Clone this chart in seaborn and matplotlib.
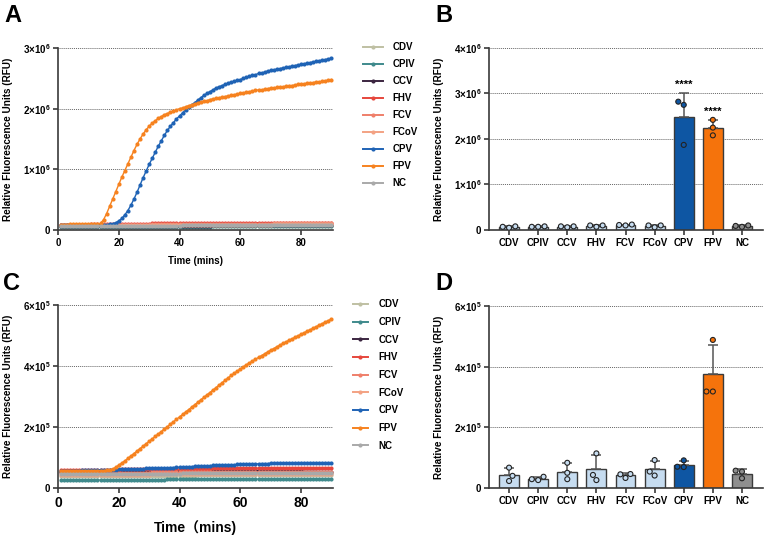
import matplotlib
matplotlib.use("Agg")
import matplotlib.pyplot as plt
from matplotlib.lines import Line2D
import numpy as np
import pandas as pd
import seaborn as sns

plt.rcParams["font.family"] = ["Liberation Sans", "DejaVu Sans"]
plt.rcParams["font.weight"] = "bold"
plt.rcParams["axes.labelweight"] = "bold"
plt.rcParams["mathtext.fontset"] = "custom"
plt.rcParams["mathtext.bf"] = "Liberation Sans:bold"
plt.rcParams["mathtext.rm"] = "Liberation Sans:bold"

viruses = ["CDV", "CPIV", "CCV", "FHV", "FCV", "FCoV", "CPV", "FPV", "NC"]
minutes = list(range(1, 91))
line_colors = ["#bfc0a3", "#3f8a8c", "#3b2540", "#e6463c", "#ef7f6a",
               "#f3a283", "#1f63b5", "#f6821f", "#a9a9a9"]
bar_colors = ["#c6dcf0", "#c6dcf0", "#c6dcf0", "#c6dcf0", "#c6dcf0",
              "#c6dcf0", "#0e56a3", "#f5730c", "#8f8f8f"]

# ---- panel A : real-time curves, RFU x 1e5 ----
a_cdv = [0.6, 0.6, 0.6, 0.6, 0.6, 0.6, 0.6, 0.6, 0.6, 0.6,
         0.6, 0.6, 0.6, 0.6, 0.6, 0.6, 0.6, 0.6, 0.6, 0.6,
         0.6, 0.6, 0.6, 0.6, 0.6, 0.6, 0.6, 0.6, 0.6, 0.6,
         0.6, 0.6, 0.6, 0.6, 0.6, 0.6, 0.6, 0.6, 0.6, 0.6,
         0.6, 0.6, 0.6, 0.6, 0.6, 0.7, 0.7, 0.7, 0.7, 0.7,
         0.7, 0.7, 0.7, 0.7, 0.7, 0.7, 0.7, 0.7, 0.7, 0.7,
         0.7, 0.7, 0.7, 0.7, 0.7, 0.7, 0.7, 0.7, 0.7, 0.7,
         0.7, 0.7, 0.7, 0.7, 0.7, 0.7, 0.7, 0.7, 0.7, 0.7,
         0.7, 0.7, 0.7, 0.7, 0.7, 0.7, 0.7, 0.7, 0.7, 0.7]
a_cpiv = [0.5, 0.5, 0.5, 0.5, 0.5, 0.5, 0.5, 0.5, 0.5, 0.5,
          0.5, 0.5, 0.5, 0.5, 0.5, 0.5, 0.5, 0.5, 0.5, 0.5,
          0.5, 0.5, 0.5, 0.5, 0.5, 0.5, 0.5, 0.5, 0.5, 0.5,
          0.5, 0.5, 0.5, 0.5, 0.5, 0.5, 0.5, 0.5, 0.5, 0.5,
          0.5, 0.5, 0.5, 0.5, 0.5, 0.5, 0.5, 0.5, 0.5, 0.5,
          0.6, 0.6, 0.6, 0.6, 0.6, 0.6, 0.6, 0.6, 0.6, 0.6,
          0.6, 0.6, 0.6, 0.6, 0.6, 0.6, 0.6, 0.6, 0.6, 0.6,
          0.6, 0.6, 0.6, 0.6, 0.6, 0.6, 0.6, 0.6, 0.6, 0.6,
          0.6, 0.6, 0.6, 0.6, 0.6, 0.6, 0.6, 0.6, 0.6, 0.6]
a_ccv = [0.7, 0.7, 0.7, 0.7, 0.7, 0.7, 0.7, 0.7, 0.7, 0.7,
         0.7, 0.7, 0.7, 0.7, 0.7, 0.7, 0.7, 0.7, 0.7, 0.7,
         0.7, 0.7, 0.7, 0.7, 0.7, 0.7, 0.7, 0.7, 0.7, 0.7,
         0.7, 0.7, 0.7, 0.7, 0.7, 0.7, 0.7, 0.7, 0.7, 0.7,
         0.7, 0.7, 0.7, 0.7, 0.7, 0.7, 0.7, 0.7, 0.7, 0.7,
         0.8, 0.8, 0.8, 0.8, 0.8, 0.8, 0.8, 0.8, 0.8, 0.8,
         0.8, 0.8, 0.8, 0.8, 0.8, 0.8, 0.8, 0.8, 0.8, 0.8,
         0.8, 0.8, 0.8, 0.8, 0.8, 0.8, 0.8, 0.8, 0.8, 0.8,
         0.8, 0.8, 0.8, 0.8, 0.8, 0.8, 0.8, 0.8, 0.8, 0.8]
a_fhv = [0.9, 0.9, 0.9, 0.9, 0.9, 0.9, 0.9, 0.9, 0.9, 0.9,
         1.0, 1.0, 1.0, 1.0, 1.0, 1.0, 1.0, 1.0, 1.0, 1.0,
         1.0, 1.0, 1.0, 1.0, 1.0, 1.0, 1.0, 1.0, 1.0, 1.0,
         1.1, 1.1, 1.1, 1.1, 1.1, 1.1, 1.1, 1.1, 1.1, 1.1,
         1.1, 1.1, 1.1, 1.1, 1.1, 1.1, 1.1, 1.1, 1.1, 1.1,
         1.1, 1.1, 1.1, 1.1, 1.1, 1.1, 1.1, 1.1, 1.1, 1.1,
         1.2, 1.2, 1.2, 1.2, 1.2, 1.2, 1.2, 1.2, 1.2, 1.2,
         1.2, 1.2, 1.2, 1.2, 1.2, 1.2, 1.2, 1.2, 1.2, 1.2,
         1.2, 1.2, 1.2, 1.2, 1.2, 1.2, 1.2, 1.2, 1.2, 1.2]
a_fcv = [0.9, 0.9, 0.9, 0.9, 0.9, 0.9, 0.9, 0.9, 0.9, 0.9,
         0.9, 0.9, 0.9, 0.9, 0.9, 0.9, 0.9, 0.9, 0.9, 0.9,
         0.9, 0.9, 0.9, 0.9, 0.9, 0.9, 0.9, 0.9, 0.9, 0.9,
         1.0, 1.0, 1.0, 1.0, 1.0, 1.0, 1.0, 1.0, 1.0, 1.0,
         1.0, 1.0, 1.0, 1.0, 1.0, 1.0, 1.0, 1.0, 1.0, 1.0,
         1.0, 1.0, 1.0, 1.0, 1.0, 1.0, 1.0, 1.0, 1.0, 1.0,
         1.0, 1.0, 1.0, 1.0, 1.0, 1.0, 1.0, 1.0, 1.0, 1.0,
         1.1, 1.1, 1.1, 1.1, 1.1, 1.1, 1.1, 1.1, 1.1, 1.1,
         1.1, 1.1, 1.1, 1.1, 1.1, 1.1, 1.1, 1.1, 1.1, 1.1]
a_fcov = [0.8, 0.8, 0.8, 0.8, 0.8, 0.8, 0.8, 0.8, 0.8, 0.8,
          0.8, 0.8, 0.8, 0.8, 0.8, 0.8, 0.8, 0.8, 0.8, 0.8,
          0.8, 0.8, 0.8, 0.8, 0.8, 0.8, 0.8, 0.8, 0.8, 0.8,
          0.9, 0.9, 0.9, 0.9, 0.9, 0.9, 0.9, 0.9, 0.9, 0.9,
          0.9, 0.9, 0.9, 0.9, 0.9, 0.9, 0.9, 0.9, 0.9, 0.9,
          0.9, 0.9, 0.9, 0.9, 0.9, 0.9, 0.9, 0.9, 0.9, 0.9,
          0.9, 0.9, 0.9, 0.9, 0.9, 0.9, 0.9, 0.9, 0.9, 0.9,
          1.0, 1.0, 1.0, 1.0, 1.0, 1.0, 1.0, 1.0, 1.0, 1.0,
          1.0, 1.0, 1.0, 1.0, 1.0, 1.0, 1.0, 1.0, 1.0, 1.0]
a_cpv = [0.80, 0.80, 0.80, 0.80, 0.81, 0.81, 0.81, 0.81, 0.81, 0.82,
         0.82, 0.82, 0.82, 0.83, 0.84, 0.87, 0.93, 1.03, 1.2, 1.5,
         1.9, 2.5, 3.2, 4.1, 5.1, 6.2, 7.4, 8.6, 9.7, 10.8,
         11.8, 12.8, 13.8, 14.7, 15.6, 16.4, 17.1, 17.7, 18.3, 18.8,
         19.3, 19.8, 20.2, 20.6, 21.0, 21.4, 21.8, 22.2, 22.5, 22.8,
         23.1, 23.4, 23.6, 23.8, 24.0, 24.2, 24.4, 24.5, 24.7, 24.8,
         25.0, 25.2, 25.3, 25.5, 25.6, 25.8, 25.9, 26.0, 26.2, 26.3,
         26.4, 26.5, 26.6, 26.7, 26.8, 26.9, 27.0, 27.1, 27.2, 27.3,
         27.4, 27.5, 27.6, 27.7, 27.8, 27.9, 28.0, 28.1, 28.2, 28.3]
a_fpv = [0.90, 0.90, 0.90, 0.91, 0.91, 0.91, 0.91, 0.92, 0.92, 0.92,
         0.92, 0.93, 0.95, 1.1, 1.7, 2.7, 3.9, 5.1, 6.3, 7.5,
         8.7, 9.8, 10.9, 12.0, 13.1, 14.1, 15.0, 15.8, 16.5, 17.1,
         17.6, 18.0, 18.4, 18.7, 19.0, 19.2, 19.4, 19.6, 19.8, 20.0,
         20.1, 20.3, 20.5, 20.6, 20.8, 20.9, 21.1, 21.2, 21.3, 21.5,
         21.6, 21.7, 21.8, 21.9, 22.0, 22.1, 22.2, 22.3, 22.4, 22.5,
         22.6, 22.7, 22.8, 22.9, 23.0, 23.1, 23.1, 23.2, 23.3, 23.4,
         23.4, 23.5, 23.6, 23.6, 23.7, 23.8, 23.8, 23.9, 24.0, 24.0,
         24.1, 24.2, 24.2, 24.3, 24.4, 24.4, 24.5, 24.6, 24.7, 24.8]
a_nc = [0.7, 0.7, 0.7, 0.7, 0.7, 0.7, 0.7, 0.7, 0.7, 0.7,
        0.7, 0.7, 0.7, 0.7, 0.7, 0.7, 0.7, 0.7, 0.7, 0.7,
        0.7, 0.7, 0.7, 0.7, 0.7, 0.7, 0.7, 0.7, 0.7, 0.7,
        0.7, 0.7, 0.7, 0.7, 0.7, 0.7, 0.7, 0.7, 0.7, 0.7,
        0.8, 0.8, 0.8, 0.8, 0.8, 0.8, 0.8, 0.8, 0.8, 0.8,
        0.8, 0.8, 0.8, 0.8, 0.8, 0.8, 0.8, 0.8, 0.8, 0.8,
        0.8, 0.8, 0.8, 0.8, 0.8, 0.8, 0.8, 0.8, 0.8, 0.8,
        0.9, 0.9, 0.9, 0.9, 0.9, 0.9, 0.9, 0.9, 0.9, 0.9,
        0.9, 0.9, 0.9, 0.9, 0.9, 0.9, 0.9, 0.9, 0.9, 0.9]

# ---- panel C : real-time curves, RFU x 1e4 ----
c_cdv = [3.8, 3.8, 3.8, 3.8, 3.8, 3.8, 3.8, 3.8, 3.8, 3.8,
         3.8, 3.8, 3.8, 3.8, 3.9, 3.9, 3.9, 3.9, 3.9, 3.9,
         3.9, 3.9, 3.9, 3.9, 3.9, 3.9, 3.9, 3.9, 3.9, 3.9,
         4.0, 4.0, 4.0, 4.0, 4.0, 4.0, 4.0, 4.0, 4.0, 4.0,
         4.0, 4.0, 4.0, 4.0, 4.0, 4.1, 4.1, 4.1, 4.1, 4.1,
         4.1, 4.1, 4.1, 4.1, 4.1, 4.1, 4.1, 4.1, 4.1, 4.1,
         4.2, 4.2, 4.2, 4.2, 4.2, 4.2, 4.2, 4.2, 4.2, 4.2,
         4.2, 4.2, 4.2, 4.2, 4.2, 4.3, 4.3, 4.3, 4.3, 4.3,
         4.3, 4.3, 4.3, 4.3, 4.3, 4.3, 4.3, 4.3, 4.3, 4.3]
c_cpiv = [2.6, 2.6, 2.6, 2.6, 2.6, 2.6, 2.6, 2.6, 2.6, 2.6,
          2.6, 2.6, 2.6, 2.6, 2.6, 2.7, 2.7, 2.7, 2.7, 2.7,
          2.7, 2.7, 2.7, 2.7, 2.7, 2.7, 2.7, 2.7, 2.7, 2.7,
          2.7, 2.7, 2.7, 2.7, 2.7, 2.8, 2.8, 2.8, 2.8, 2.8,
          2.8, 2.8, 2.8, 2.8, 2.8, 2.8, 2.8, 2.8, 2.8, 2.8,
          2.8, 2.8, 2.8, 2.8, 2.8, 2.9, 2.9, 2.9, 2.9, 2.9,
          2.9, 2.9, 2.9, 2.9, 2.9, 2.9, 2.9, 2.9, 2.9, 2.9,
          2.9, 2.9, 2.9, 2.9, 2.9, 3.0, 3.0, 3.0, 3.0, 3.0,
          3.0, 3.0, 3.0, 3.0, 3.0, 3.0, 3.0, 3.0, 3.0, 3.0]
c_ccv = [5.3, 5.3, 5.3, 5.3, 5.3, 5.3, 5.3, 5.3, 5.3, 5.3,
         5.3, 5.3, 5.3, 5.3, 5.3, 5.4, 5.4, 5.4, 5.4, 5.4,
         5.4, 5.4, 5.4, 5.4, 5.4, 5.4, 5.4, 5.4, 5.4, 5.4,
         5.5, 5.5, 5.5, 5.5, 5.5, 5.5, 5.5, 5.5, 5.5, 5.5,
         5.6, 5.6, 5.6, 5.6, 5.6, 5.6, 5.6, 5.6, 5.6, 5.6,
         5.7, 5.7, 5.7, 5.7, 5.7, 5.8, 5.8, 5.8, 5.8, 5.8,
         5.8, 5.8, 5.8, 5.8, 5.8, 5.7, 5.7, 5.7, 5.7, 5.7,
         5.6, 5.6, 5.6, 5.6, 5.6, 5.5, 5.5, 5.5, 5.5, 5.5,
         5.4, 5.4, 5.4, 5.4, 5.4, 5.3, 5.3, 5.3, 5.3, 5.3]
c_fhv = [5.9, 5.9, 5.9, 5.9, 5.9, 5.9, 5.9, 5.9, 5.9, 5.9,
         6.0, 6.0, 6.0, 6.0, 6.0, 6.0, 6.0, 6.0, 6.0, 6.0,
         6.1, 6.1, 6.1, 6.1, 6.1, 6.1, 6.1, 6.1, 6.1, 6.1,
         6.2, 6.2, 6.2, 6.2, 6.2, 6.2, 6.2, 6.2, 6.2, 6.2,
         6.3, 6.3, 6.3, 6.3, 6.3, 6.3, 6.3, 6.3, 6.3, 6.3,
         6.4, 6.4, 6.4, 6.4, 6.4, 6.4, 6.4, 6.4, 6.4, 6.4,
         6.5, 6.5, 6.5, 6.5, 6.5, 6.5, 6.5, 6.5, 6.5, 6.5,
         6.5, 6.5, 6.5, 6.5, 6.5, 6.6, 6.6, 6.6, 6.6, 6.6,
         6.6, 6.6, 6.6, 6.6, 6.6, 6.6, 6.6, 6.6, 6.6, 6.6]
c_fcv = [5.0, 5.0, 5.0, 5.0, 5.0, 5.0, 5.0, 5.0, 5.0, 5.0,
         5.0, 5.0, 5.0, 5.0, 5.0, 5.0, 5.0, 5.0, 5.0, 5.0,
         5.0, 5.0, 5.0, 5.0, 5.0, 5.0, 5.0, 5.0, 5.0, 5.0,
         5.1, 5.1, 5.1, 5.1, 5.1, 5.1, 5.1, 5.1, 5.1, 5.1,
         5.1, 5.1, 5.1, 5.1, 5.1, 5.1, 5.1, 5.1, 5.1, 5.1,
         5.1, 5.1, 5.1, 5.1, 5.1, 5.1, 5.1, 5.1, 5.1, 5.1,
         5.2, 5.2, 5.2, 5.2, 5.2, 5.2, 5.2, 5.2, 5.2, 5.2,
         5.2, 5.2, 5.2, 5.2, 5.2, 5.2, 5.2, 5.2, 5.2, 5.2,
         5.2, 5.2, 5.2, 5.2, 5.2, 5.2, 5.2, 5.2, 5.2, 5.2]
c_fcov = [4.4, 4.4, 4.4, 4.4, 4.4, 4.4, 4.4, 4.4, 4.4, 4.4,
          4.4, 4.4, 4.4, 4.4, 4.4, 4.4, 4.4, 4.4, 4.4, 4.4,
          4.4, 4.4, 4.4, 4.4, 4.4, 4.4, 4.4, 4.4, 4.4, 4.4,
          4.5, 4.5, 4.5, 4.5, 4.5, 4.5, 4.5, 4.5, 4.5, 4.5,
          4.5, 4.5, 4.5, 4.5, 4.5, 4.5, 4.5, 4.5, 4.5, 4.5,
          4.5, 4.5, 4.5, 4.5, 4.5, 4.5, 4.5, 4.5, 4.5, 4.5,
          4.6, 4.6, 4.6, 4.6, 4.6, 4.6, 4.6, 4.6, 4.6, 4.6,
          4.6, 4.6, 4.6, 4.6, 4.6, 4.6, 4.6, 4.6, 4.6, 4.6,
          4.6, 4.6, 4.6, 4.6, 4.6, 4.6, 4.6, 4.6, 4.6, 4.6]
c_cpv = [5.6, 5.6, 5.6, 5.7, 5.7, 5.7, 5.7, 5.8, 5.8, 5.8,
         5.8, 5.9, 5.9, 5.9, 5.9, 6.0, 6.0, 6.0, 6.0, 6.1,
         6.1, 6.1, 6.2, 6.2, 6.2, 6.3, 6.3, 6.3, 6.4, 6.4,
         6.4, 6.5, 6.5, 6.6, 6.6, 6.6, 6.7, 6.7, 6.8, 6.8,
         6.9, 6.9, 7.0, 7.0, 7.1, 7.1, 7.2, 7.2, 7.3, 7.3,
         7.4, 7.4, 7.4, 7.5, 7.5, 7.6, 7.6, 7.6, 7.7, 7.7,
         7.8, 7.8, 7.8, 7.9, 7.9, 7.9, 8.0, 8.0, 8.0, 8.1,
         8.1, 8.1, 8.1, 8.2, 8.2, 8.2, 8.2, 8.2, 8.3, 8.3,
         8.3, 8.3, 8.3, 8.3, 8.3, 8.3, 8.3, 8.3, 8.3, 8.3]
c_fpv = [5.5, 5.5, 5.5, 5.5, 5.5, 5.5, 5.6, 5.6, 5.6, 5.6,
         5.6, 5.6, 5.7, 5.7, 5.7, 5.8, 5.9, 6.2, 6.8, 7.5,
         8.2, 8.9, 9.7, 10.5, 11.3, 12.1, 12.9, 13.7, 14.5, 15.3,
         16.1, 16.9, 17.7, 18.5, 19.3, 20.1, 20.9, 21.7, 22.5, 23.3,
         24.1, 24.9, 25.7, 26.5, 27.3, 28.1, 28.9, 29.7, 30.5, 31.3,
         32.1, 32.9, 33.7, 34.5, 35.3, 36.1, 36.9, 37.6, 38.3, 39.0,
         39.7, 40.4, 41.0, 41.6, 42.2, 42.8, 43.4, 44.0, 44.6, 45.2,
         45.7, 46.3, 46.8, 47.4, 47.9, 48.4, 48.9, 49.4, 49.9, 50.4,
         50.9, 51.4, 51.9, 52.4, 52.9, 53.4, 53.9, 54.4, 54.9, 55.4]
c_nc = [4.6, 4.6, 4.6, 4.6, 4.6, 4.6, 4.6, 4.6, 4.6, 4.6,
        4.6, 4.6, 4.6, 4.6, 4.6, 4.6, 4.6, 4.6, 4.6, 4.6,
        4.7, 4.7, 4.7, 4.7, 4.7, 4.7, 4.7, 4.7, 4.7, 4.7,
        4.7, 4.7, 4.7, 4.7, 4.7, 4.7, 4.7, 4.7, 4.7, 4.7,
        4.8, 4.8, 4.8, 4.8, 4.8, 4.8, 4.8, 4.8, 4.8, 4.8,
        4.8, 4.8, 4.8, 4.8, 4.8, 4.8, 4.8, 4.8, 4.8, 4.8,
        4.9, 4.9, 4.9, 4.9, 4.9, 4.9, 4.9, 4.9, 4.9, 4.9,
        4.9, 4.9, 4.9, 4.9, 4.9, 4.9, 4.9, 4.9, 4.9, 4.9,
        5.0, 5.0, 5.0, 5.0, 5.0, 5.0, 5.0, 5.0, 5.0, 5.0]

# ---- panel B : end-point replicates, RFU x 1e6 ----
b_rep1 = [0.05, 0.07, 0.06, 0.07, 0.10, 0.06, 2.82, 2.42, 0.07]
b_rep2 = [0.08, 0.08, 0.08, 0.10, 0.12, 0.10, 2.75, 2.25, 0.10]
b_rep3 = [0.07, 0.07, 0.08, 0.10, 0.11, 0.10, 1.87, 2.08, 0.09]
b_stars = ["", "", "", "", "", "", "****", "****", ""]

# ---- panel D : end-point replicates, RFU x 1e5 ----
d_rep1 = [0.67, 0.37, 0.83, 1.14, 0.33, 0.92, 0.91, 4.88, 0.57]
d_rep2 = [0.40, 0.29, 0.50, 0.43, 0.46, 0.54, 0.69, 3.18, 0.54]
d_rep3 = [0.23, 0.26, 0.29, 0.26, 0.45, 0.41, 0.70, 3.18, 0.32]

a_ticks = [0, 1e6, 2e6, 3e6]
a_labels = ["0", r"$\mathbf{1×10^{6}}$", r"$\mathbf{2×10^{6}}$", r"$\mathbf{3×10^{6}}$"]
b_ticks = [0, 1e6, 2e6, 3e6, 4e6]
b_labels = ["0", r"$\mathbf{1×10^{6}}$", r"$\mathbf{2×10^{6}}$", r"$\mathbf{3×10^{6}}$",
            r"$\mathbf{4×10^{6}}$"]
cd_ticks = [0, 2e5, 4e5, 6e5]
cd_labels = ["0", r"$\mathbf{2×10^{5}}$", r"$\mathbf{4×10^{5}}$", r"$\mathbf{6×10^{5}}$"]
time_ticks = [0, 20, 40, 60, 80]

INK = "#3a3a3a"


def style_axes(ax, ticks, labels):
    sns.despine(ax=ax)
    for side in ["left", "bottom"]:
        ax.spines[side].set_color(INK)
        ax.spines[side].set_linewidth(1.2)
    ax.set_ylim(0, ticks[-1])
    ax.set_yticks(ticks)
    ax.set_yticklabels(labels)
    ax.yaxis.grid(True, linestyle=(0, (1, 1)), color="#666666", linewidth=0.7)
    ax.set_axisbelow(True)
    ax.tick_params(direction="out", length=3.5, width=1.2, color=INK,
                   labelsize=7, pad=2)
    ax.set_ylabel("Relative Fluorescence Units (RFU)", fontsize=7.2)
    ax.yaxis.set_label_coords(-0.164, 0.5)


def draw_lines(ax, series, scale, ticks, labels, leg_x, leg_y, hlen, hpad, lspace):
    frame = pd.DataFrame({
        "virus": np.repeat(viruses, len(minutes)),
        "minute": minutes * len(viruses),
        "rfu": np.concatenate(series) * scale,
    })
    sns.lineplot(data=frame, x="minute", y="rfu", hue="virus", hue_order=viruses,
                 palette=line_colors, errorbar=None, marker="o", markersize=3,
                 markeredgewidth=0, linewidth=1.0, legend=False, ax=ax)
    style_axes(ax, ticks, labels)
    ax.set_xlim(0, 90.5)
    ax.set_xticks(time_ticks)
    handles = [Line2D([], [], color=c, lw=1.4, marker="o", ms=3, mew=0)
               for c in line_colors]
    ax.legend(handles, viruses, loc="upper left", bbox_to_anchor=(leg_x, leg_y),
              frameon=False, fontsize=7, handlelength=hlen, handletextpad=hpad,
              labelspacing=lspace, borderpad=0, borderaxespad=0)


def draw_bars(ax, reps, scale, ticks, labels, stars=None):
    frame = pd.DataFrame({
        "virus": viruses * len(reps),
        "rfu": np.concatenate(reps) * scale,
    })
    sns.barplot(data=frame, x="virus", y="rfu", hue="virus", order=viruses,
                hue_order=viruses, palette=bar_colors, saturation=1, errorbar=None,
                width=0.68, edgecolor=INK, linewidth=1.0, legend=False, ax=ax)
    stats = frame.groupby("virus", sort=False)["rfu"].agg(["mean", "std"]).reindex(viruses)
    pos = np.arange(len(viruses))
    ax.errorbar(pos, stats["mean"], yerr=[np.zeros(len(viruses)), stats["std"]],
                fmt="none", ecolor="#555555", elinewidth=1.1, capsize=3.5,
                capthick=1.1, zorder=3)
    sns.swarmplot(data=frame, x="virus", y="rfu", hue="virus", order=viruses,
                  hue_order=viruses, palette=bar_colors, size=3.6,
                  edgecolor="#222222", linewidth=0.8, legend=False, ax=ax, zorder=4)
    if stars:
        tops = stats["mean"] + stats["std"]
        for i, s in enumerate(stars):
            if s:
                ax.annotate(s, (i, tops.iloc[i]), xytext=(0, 3.6),
                            textcoords="offset points", ha="center",
                            va="baseline", fontsize=8)
    style_axes(ax, ticks, labels)
    ax.set_xlim(-0.69, 8.72)
    ax.set_xlabel("")


fig = plt.figure(figsize=(7.67, 5.36), dpi=100)
ax_a = fig.add_axes([0.0756, 0.5709, 0.3585, 0.3396])
ax_b = fig.add_axes([0.6375, 0.5709, 0.3572, 0.3396])
ax_c = fig.add_axes([0.0756, 0.0896, 0.3585, 0.3414])
ax_d = fig.add_axes([0.6375, 0.0896, 0.3572, 0.3396])

draw_lines(ax_a, [a_cdv, a_cpiv, a_ccv, a_fhv, a_fcv, a_fcov, a_cpv, a_fpv, a_nc],
           1e5, a_ticks, a_labels, 1.108, 1.031, 2.05, 1.0, 0.72)
ax_a.set_xlabel("Time (mins)", fontsize=7)
ax_a.xaxis.set_label_coords(0.5, -0.143)

draw_lines(ax_c, [c_cdv, c_cpiv, c_ccv, c_fhv, c_fcv, c_fcov, c_cpv, c_fpv, c_nc],
           1e4, cd_ticks, cd_labels, 1.073, 1.031, 1.5, 1.1, 0.79)
ax_c.tick_params(axis="x", labelsize=10)
ax_c.set_xlabel("Time（mins)", fontsize=10,
                family=["Liberation Sans", "Noto Sans CJK SC", "DejaVu Sans"])
ax_c.xaxis.set_label_coords(0.5, -0.178)

draw_bars(ax_b, [b_rep1, b_rep2, b_rep3], 1e6, b_ticks, b_labels, b_stars)
draw_bars(ax_d, [d_rep1, d_rep2, d_rep3], 1e5, cd_ticks, cd_labels)

for label, x, y in [("A", 0.006, 0.959), ("B", 0.567, 0.959),
                    ("C", 0.004, 0.459), ("D", 0.567, 0.459)]:
    fig.text(x, y, label, fontsize=17, fontweight="bold", va="baseline")

fig.savefig("out.png", dpi=100)
